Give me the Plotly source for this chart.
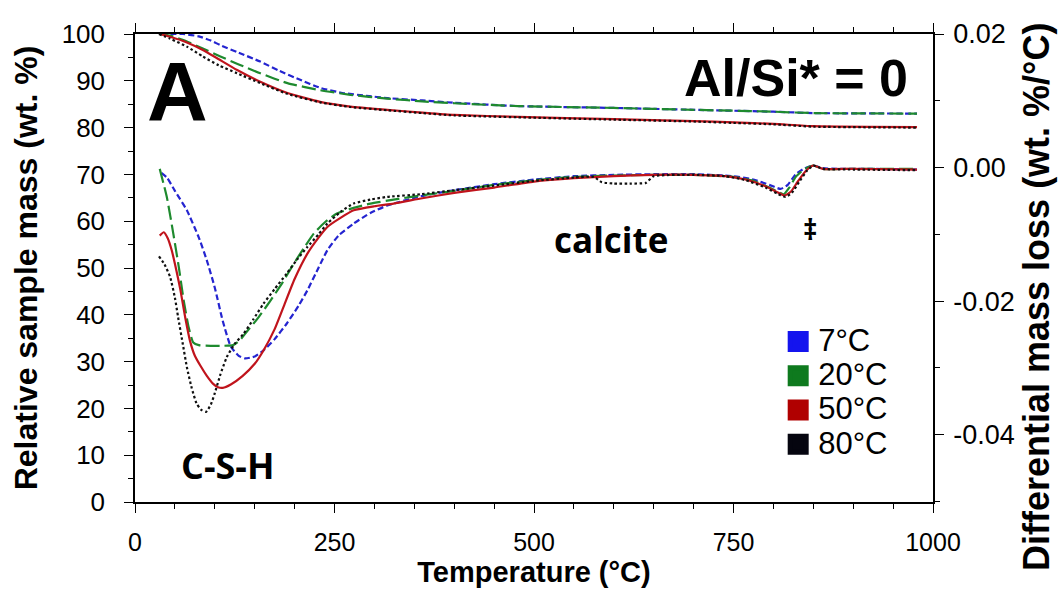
import plotly.graph_objects as go

# ---------------- data ----------------
series_names = ["7°C", "20°C", "50°C", "80°C"]
series_colors = ["#2424d0", "#1e8a2e", "#c0141c", "#101010"]
legend_colors = ["#1414ee", "#0e7a1e", "#b00000", "#05050f"]
series_dash = ["6px,3px", "14px,5px", "solid", "2.5px,2.5px"]

# Thermogravimetric (TG) curves: relative mass (wt. %)
tg_t_7 = [33, 60, 80, 95, 107, 130, 157, 180, 207, 232, 260, 290, 316, 360, 400, 480, 600, 700, 800, 850, 980]
tg_m_7 = [100, 100, 99.5, 98.6, 97.6, 96.0, 94.1, 92.2, 90.2, 88.5, 87.4, 86.8, 86.3, 85.8, 85.3, 84.6, 84.2, 83.8, 83.4, 83.1, 83.0]

tg_t_20 = [31, 45, 65, 85, 107, 130, 157, 191, 232, 270, 316, 360, 400, 480, 600, 700, 800, 850, 980]
tg_m_20 = [100, 99.6, 98.4, 96.9, 95.2, 93.5, 91.6, 89.5, 88.0, 87.0, 86.2, 85.6, 85.2, 84.6, 84.2, 83.8, 83.4, 83.1, 83.0]

tg_t_50 = [31, 44, 65, 85, 105, 128, 157, 191, 232, 270, 316, 360, 400, 480, 600, 700, 750, 800, 850, 980]
tg_m_50 = [100, 99.4, 98.2, 96.6, 94.6, 92.3, 89.8, 87.4, 85.5, 84.5, 83.8, 83.2, 82.7, 82.3, 81.8, 81.4, 81.1, 80.8, 80.3, 80.1]

tg_t_80 = [30, 44, 65, 85, 105, 128, 157, 191, 232, 270, 316, 360, 400, 480, 600, 700, 750, 800, 850, 980]
tg_m_80 = [100, 99.0, 97.3, 95.2, 93.3, 91.6, 89.5, 87.2, 85.4, 84.4, 83.7, 83.1, 82.6, 82.2, 81.7, 81.3, 81.0, 80.7, 80.2, 80.0]

# Differential (DTG) curves: wt. %/°C
dtg_t_7 = [33, 40, 50, 65, 80, 90, 100, 110, 120, 130, 138, 150, 161, 175, 190, 205, 216, 230, 241, 255, 274,
           295, 316, 358, 400, 450, 500, 550, 600, 650, 700, 750, 775, 795, 809, 818, 828, 838, 850, 862, 880, 920, 980]
dtg_v_7 = [-0.0008, -0.0015, -0.0035, -0.0064, -0.0105, -0.0139, -0.0180, -0.0230, -0.0268, -0.0282, -0.0286,
           -0.0283, -0.0274, -0.0257, -0.0234, -0.0207, -0.0184, -0.0150, -0.0124, -0.0102, -0.0084, -0.0068,
           -0.0057, -0.0043, -0.0034, -0.0025, -0.0018, -0.0013, -0.0011, -0.0010, -0.0010, -0.0013, -0.0018,
           -0.0026, -0.0032, -0.0026, -0.0010, -0.0002, 0.0003, -0.0001, -0.0002, -0.0002, -0.0003]

dtg_t_20 = [31, 40, 48, 55, 61, 67, 73, 80, 95, 110, 123, 132, 140, 155, 170, 185, 199, 212, 224, 238, 253, 275,
            295, 330, 358, 400, 450, 500, 550, 600, 650, 700, 750, 775, 795, 805, 813, 820, 828, 838, 850, 862, 900, 980]
dtg_v_20 = [-0.0002, -0.0045, -0.0099, -0.0150, -0.0199, -0.0238, -0.0262, -0.0266, -0.0267, -0.0267, -0.0266,
            -0.0258, -0.0246, -0.0224, -0.0199, -0.0172, -0.0144, -0.0120, -0.0099, -0.0082, -0.0069, -0.0060,
            -0.0054, -0.0047, -0.0042, -0.0035, -0.0026, -0.0019, -0.0014, -0.0012, -0.0011, -0.0011, -0.0014,
            -0.0020, -0.0030, -0.0036, -0.0040, -0.0030, -0.0014, -0.0003, 0.0003, -0.0002, -0.0002, -0.0002]

dtg_t_50 = [31, 36, 41, 46, 52, 57, 63, 69, 75, 82, 90, 98, 104, 110, 120, 135, 150, 161, 175, 186, 200, 216, 230,
            241, 258, 274, 300, 324, 360, 400, 450, 500, 550, 600, 650, 700, 740, 765, 790, 805, 814, 822, 830, 840,
            850, 862, 900, 980]
dtg_v_50 = [-0.0102, -0.0097, -0.0106, -0.0124, -0.0155, -0.0184, -0.0225, -0.0260, -0.0282, -0.0297, -0.0312,
            -0.0324, -0.0329, -0.0330, -0.0325, -0.0312, -0.0294, -0.0274, -0.0242, -0.0209, -0.0167, -0.0129,
            -0.0105, -0.0089, -0.0075, -0.0064, -0.0058, -0.0054, -0.0046, -0.0038, -0.0030, -0.0021, -0.0016,
            -0.0013, -0.0011, -0.0011, -0.0013, -0.0018, -0.0028, -0.0037, -0.0042, -0.0036, -0.0022, -0.0006,
            0.0003, -0.0002, -0.0002, -0.0003]

dtg_t_80 = [30, 37, 44, 50, 54, 60, 65, 71, 77, 83, 89, 95, 100, 107, 115, 125, 136, 148, 161, 175, 190, 203, 216,
            230, 241, 258, 274, 295, 316, 358, 400, 450, 500, 550, 575, 585, 600, 620, 640, 650, 700, 740, 765, 790,
            805, 815, 823, 832, 842, 850, 862, 900, 980]
dtg_v_80 = [-0.0133, -0.0145, -0.0164, -0.0195, -0.0224, -0.0265, -0.0299, -0.0330, -0.0353, -0.0363, -0.0366,
            -0.0355, -0.0338, -0.0310, -0.0284, -0.0264, -0.0249, -0.0228, -0.0204, -0.0182, -0.0159, -0.0138,
            -0.0119, -0.0100, -0.0084, -0.0066, -0.0054, -0.0048, -0.0044, -0.0040, -0.0034, -0.0027, -0.0020,
            -0.0015, -0.0014, -0.0022, -0.0024, -0.0024, -0.0023, -0.0013, -0.0011, -0.0013, -0.0019, -0.0030,
            -0.0039, -0.0044, -0.0038, -0.0022, -0.0005, 0.0003, -0.0002, -0.0003, -0.0004]

tg_t = [tg_t_7, tg_t_20, tg_t_50, tg_t_80]
tg_m = [tg_m_7, tg_m_20, tg_m_50, tg_m_80]
dtg_t = [dtg_t_7, dtg_t_20, dtg_t_50, dtg_t_80]
dtg_v = [dtg_v_7, dtg_v_20, dtg_v_50, dtg_v_80]

x_ticks = [0, 250, 500, 750, 1000]
y_ticks = [0, 10, 20, 30, 40, 50, 60, 70, 80, 90, 100]
y2_ticks = [0.02, 0.0, -0.02, -0.04]
y2_labels = ["0.02", "0.00", "-0.02", "-0.04"]
y2_minor = [0.01, -0.01, -0.03, -0.05]

# ---------------- figure ----------------
fig = go.Figure()
for i, name in enumerate(series_names):
    line = dict(color=series_colors[i], width=2.2, dash=series_dash[i], shape="spline", smoothing=0.5)
    fig.add_trace(go.Scatter(x=tg_t[i], y=tg_m[i], mode="lines", line=line,
                             showlegend=False, name=name, yaxis="y"))
    fig.add_trace(go.Scatter(x=dtg_t[i], y=dtg_v[i], mode="lines", line=line,
                             showlegend=False, name=name, yaxis="y2"))
# legend entries (filled squares)
for i, name in enumerate(series_names):
    fig.add_trace(go.Scatter(x=[None], y=[None], mode="markers",
                             name='<span style="font-size:31px">%s</span>' % name,
                             marker=dict(symbol="square", size=16, color=legend_colors[i],
                                         line=dict(color=legend_colors[i], width=5)),
                             showlegend=True))

FAM = "Liberation Sans, Arial, sans-serif"
tick_font = dict(family=FAM, size=26, color="black")
tick_font_x = dict(family=FAM, size=25, color="black")
tick_font_r = dict(family=FAM, size=27, color="black")

fig.update_layout(
    width=1062, height=589,
    margin=dict(l=135, r=129, t=34, b=87, autoexpand=False),
    paper_bgcolor="white", plot_bgcolor="white",
    font=tick_font,
    xaxis=dict(range=[0, 1000], tickmode="array", tickvals=x_ticks, ticks="outside", ticklen=9,
               tickwidth=1.3, tickcolor="black", showline=True, linecolor="black", linewidth=1.5,
               mirror="ticks", showgrid=False, zeroline=False, tickfont=tick_font_x, ticklabelstandoff=8,
               minor=dict(dtick=50, tick0=0, ticks="outside", ticklen=5, tickwidth=1.2, tickcolor="black",
                          showgrid=False),
               title=dict(text="<b>Temperature (°C)</b>", font=dict(family=FAM, size=29, color="black"),
                          standoff=5), automargin=False),
    yaxis=dict(range=[0, 100], tickmode="array", tickvals=y_ticks, ticks="outside", ticklen=9,
               tickwidth=1.3, tickcolor="black", showline=True, linecolor="black", linewidth=1.5,
               showgrid=False, zeroline=False, tickfont=tick_font, ticklabelstandoff=14,
               minor=dict(dtick=5, tick0=0, ticks="outside", ticklen=5, tickwidth=1.2, tickcolor="black",
                          showgrid=False),
               title=dict(text="<b>Relative sample mass (wt. %)</b>", font=dict(family=FAM, size=32, color="black"),
                          standoff=14),
               automargin=False),
    yaxis2=dict(range=[-0.0501, 0.02], overlaying="y", side="right", tickmode="array", tickvals=y2_ticks,
                ticktext=y2_labels, ticks="outside", ticklen=9, tickwidth=1.3, tickcolor="black",
                showline=True, linecolor="black", linewidth=1.5, showgrid=False, zeroline=False,
                tickfont=tick_font_r, ticklabelstandoff=4,
                minor=dict(tickvals=y2_minor, ticks="outside", ticklen=5, tickwidth=1.2, tickcolor="black",
                           showgrid=False),
                automargin=False),
    legend=dict(x=0.806, y=0.39, xanchor="left", yanchor="top", bgcolor="rgba(0,0,0,0)",
                font=dict(family=FAM, size=24, color="black"),
                itemwidth=30, tracegroupgap=0),
    showlegend=True,
)

# right-hand axis title (placed as rotated text to match the reference's extent)
fig.add_annotation(x=1.129, y=0.44, xref="paper", yref="paper", text="<b>Differential mass loss (wt. %/°C)</b>",
                   textangle=-90, showarrow=False, xanchor="center", yanchor="middle",
                   font=dict(family=FAM, size=36, color="black"))

label_font = "Open Sans, Noto Sans, sans-serif"
fig.add_annotation(x=53, y=87.6, xref="x", yref="y", text="<b>A</b>", showarrow=False,
                   font=dict(family=FAM, size=84, color="black"))
fig.add_annotation(x=971, y=90.6, xref="x", yref="y", text="<b>Al/Si* = 0</b>", showarrow=False,
                   xanchor="right", font=dict(family=FAM, size=52, color="black"))
fig.add_annotation(x=597, y=56, xref="x", yref="y", text="<b>calcite</b>", showarrow=False,
                   font=dict(family=label_font, size=35, color="black"))
fig.add_annotation(x=116, y=7.8, xref="x", yref="y", text="<b>C-S-H</b>", showarrow=False,
                   font=dict(family=label_font, size=36, color="black"))
fig.add_annotation(x=846, y=58.3, xref="x", yref="y", text="<b>‡</b>", showarrow=False,
                   font=dict(family=label_font, size=28, color="black"))

fig.write_html("out.html", config={"displayModeBar": False},
               post_script="document.body.style.margin='0px';")
